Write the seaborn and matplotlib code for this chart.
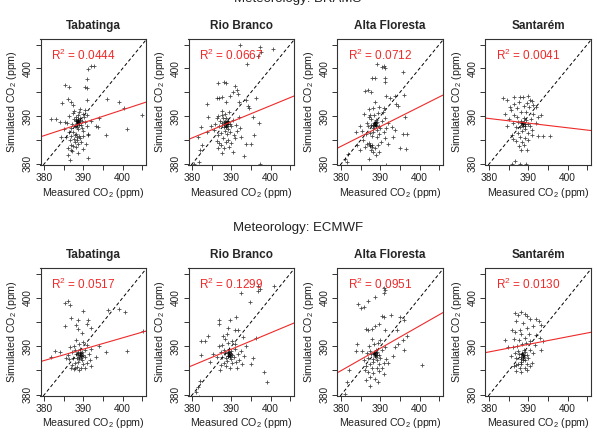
"""Measured vs simulated CO2 at four Amazon sites, two meteorology drivers."""
import matplotlib; matplotlib.use("Agg")
import numpy as np
import pandas as pd
import matplotlib.pyplot as plt
import seaborn as sns

sites = ["Tabatinga", "Rio Branco", "Alta Floresta", "Santarém"]
drivers = ["BRAMS", "ECMWF"]

r2_brams = ["0.0444", "0.0667", "0.0712", "0.0041"]
r2_ecmwf = ["0.0517", "0.1299", "0.0951", "0.0130"]
# fitted lines: slope and value at 390 ppm
slope_brams = [0.27, 0.338, 0.413, -0.097]
fit390_brams = [388.6, 388.8, 387.8, 388.5]
slope_ecmwf = [0.234, 0.338, 0.461, 0.156]
fit390_ecmwf = [389.4, 389.4, 389.6, 390.4]

# (measured, simulated) pairs, ppm
brams_tabatinga = [
    (391.2, 399.9), (392.0, 400.6), (392.6, 400.6), (391.0, 397.7), (385.3, 396.6), (386.4, 396.2),
    (390.3, 396.0), (391.0, 395.8), (386.1, 393.5), (391.0, 393.3), (384.6, 392.8), (386.7, 392.9),
    (387.2, 392.3), (396.1, 393.6), (399.1, 393.0), (400.3, 391.7), (405.1, 390.3), (381.7, 389.4),
    (383.0, 389.4), (384.0, 388.8), (385.3, 388.8), (394.0, 389.6), (393.1, 388.0), (393.7, 387.7),
    (401.2, 387.3), (395.8, 386.1), (391.2, 386.3), (386.1, 381.8), (386.9, 382.8), (386.6, 380.7),
    (391.2, 381.1), (385.0, 387.2), (384.3, 385.6), (392.0, 389.0),
    (388.2, 388.9), (388.5, 389.2), (388.8, 388.6), (388.4, 388.3), (389.0, 389.5), (388.0, 389.8),
    (388.6, 390.2), (389.3, 388.1), (387.8, 388.0), (388.3, 387.6), (389.5, 389.0), (387.5, 389.3),
    (388.9, 390.8), (389.8, 390.5), (387.2, 390.6), (390.2, 389.8), (390.5, 388.7), (387.0, 388.4),
    (386.8, 387.5), (388.7, 387.2), (389.6, 387.4), (390.0, 386.8), (387.4, 386.6), (388.1, 386.2),
    (388.9, 385.9), (386.9, 385.8), (387.6, 385.2), (388.4, 385.0), (389.2, 385.3), (386.5, 384.9),
    (387.9, 384.5), (388.7, 384.2), (386.7, 384.0), (387.3, 383.6), (388.2, 383.4), (389.4, 384.6),
    (389.9, 385.7), (386.2, 386.7), (385.9, 388.6), (390.4, 391.2), (389.1, 391.4), (387.7, 391.0),
    (386.4, 390.1), (391.0, 390.2), (390.8, 387.8), (386.0, 383.2), (387.0, 382.6), (388.5, 382.3),
    (389.8, 383.0), (385.6, 385.5), (390.6, 384.2), (391.2, 386.0),
    (388.4, 388.9), (388.6, 388.7), (388.7, 389.0), (388.3, 388.5), (388.9, 388.8), (388.5, 389.4),
    (388.1, 389.1), (388.8, 388.2), (388.2, 388.0), (389.1, 389.1), (387.9, 386.0), (388.3, 385.6),
]
brams_riobranco = [
    (392.3, 404.9), (397.3, 404.6), (397.6, 403.5), (396.7, 402.7), (400.7, 404.0), (394.0, 400.9),
    (386.5, 396.9), (388.0, 397.1), (388.6, 396.9), (390.8, 396.3), (391.4, 395.4), (386.3, 393.8),
    (386.9, 393.7), (387.6, 394.0), (389.5, 394.2), (388.6, 393.0), (390.3, 395.1), (391.6, 394.6),
    (391.9, 393.0), (393.7, 393.3), (396.3, 393.7), (394.6, 391.6), (394.1, 392.1), (383.7, 392.6),
    (386.5, 390.0), (387.5, 390.2), (384.0, 389.8), (395.4, 389.7), (397.0, 388.6), (395.8, 386.1),
    (382.1, 387.6), (383.8, 386.7), (381.4, 385.6), (382.5, 383.9), (381.9, 382.8), (381.7, 380.4),
    (380.4, 379.9), (386.9, 384.4), (386.5, 383.2), (393.7, 384.1), (393.3, 381.6), (395.0, 384.2),
    (397.3, 379.9),
    (388.5, 388.3), (388.2, 388.8), (388.9, 388.0), (388.0, 387.6), (389.2, 388.9), (387.6, 388.5),
    (388.7, 389.5), (389.5, 388.4), (387.8, 389.6), (389.0, 387.2), (388.3, 386.8), (390.0, 387.8),
    (386.9, 387.8), (387.2, 386.5), (388.8, 386.2), (389.6, 386.7), (390.3, 389.2), (387.0, 389.0),
    (388.4, 390.5), (389.4, 390.8), (387.5, 391.0), (390.6, 386.0), (386.6, 386.0), (387.9, 385.4),
    (389.1, 385.0), (388.5, 384.5), (387.3, 384.0), (389.8, 384.3), (390.8, 385.3), (386.4, 384.8),
    (388.0, 383.2), (389.3, 383.5), (390.4, 382.5), (387.6, 382.2), (391.2, 388.1), (391.5, 386.8),
    (386.2, 389.6), (385.8, 388.4), (385.5, 387.0), (392.2, 387.5), (391.8, 389.8), (392.5, 385.5),
    (384.8, 388.0),
    (388.6, 388.4), (388.4, 388.1), (388.8, 388.6), (388.3, 388.9), (389.0, 388.3), (388.7, 387.9),
    (388.1, 388.4), (389.1, 388.7), (388.5, 387.7), (388.9, 389.0),
]
brams_altafloresta = [
    (390.9, 400.5), (390.5, 400.3), (391.1, 400.2), (389.1, 400.9), (395.8, 399.3), (387.8, 397.9),
    (388.5, 397.9), (391.2, 398.1), (391.2, 397.1), (386.1, 395.3), (386.9, 395.4), (387.6, 395.1),
    (391.4, 394.2), (392.5, 393.8), (393.6, 394.2), (396.0, 394.4), (388.5, 393.0), (393.9, 392.6),
    (394.4, 392.1), (396.3, 389.8), (391.0, 391.7), (388.1, 391.6), (387.4, 390.2), (384.8, 387.9),
    (383.7, 386.7), (392.9, 387.7), (393.7, 387.0), (395.8, 386.3), (396.7, 386.3), (395.0, 383.2),
    (396.5, 383.0), (391.2, 385.3), (393.3, 385.6), (392.0, 384.1), (388.8, 381.8), (387.0, 381.0),
    (381.7, 382.0), (381.0, 381.0), (381.5, 380.3), (384.8, 382.8), (384.0, 383.9), (391.4, 379.6),
    (389.5, 382.5),
    (388.6, 388.1), (388.3, 388.6), (388.9, 387.8), (388.0, 387.5), (389.2, 388.7), (387.7, 388.2),
    (388.8, 389.2), (389.5, 388.0), (387.5, 389.3), (389.0, 387.0), (388.2, 386.7), (390.0, 387.5),
    (386.9, 387.9), (387.3, 386.5), (389.6, 386.3), (390.4, 388.9), (387.1, 389.9), (388.4, 390.3),
    (389.4, 390.6), (386.5, 388.5), (390.8, 386.7), (386.2, 386.2), (387.8, 385.8), (389.1, 385.5),
    (386.6, 384.2), (387.2, 383.7), (387.9, 384.0), (388.5, 383.3), (386.0, 383.5), (387.5, 382.8),
    (388.2, 382.5), (389.3, 383.9), (390.2, 384.6), (385.5, 385.0), (385.2, 386.8), (391.2, 389.5),
    (391.5, 387.5), (390.6, 390.8), (385.8, 390.5), (389.7, 391.8), (387.0, 391.5), (392.0, 388.5),
    (388.6, 388.3), (388.4, 387.9), (388.8, 388.5), (388.5, 388.8), (388.9, 388.1), (388.2, 388.2),
    (387.4, 383.9), (387.0, 384.3), (387.8, 383.5),
]
brams_santarem = [
    (392.5, 385.8), (393.7, 385.8), (395.4, 385.8), (388.1, 382.8), (389.5, 382.8), (386.5, 380.5),
    (385.7, 379.9), (387.8, 379.9), (389.3, 379.9), (383.6, 393.7), (384.6, 393.3), (386.3, 393.9),
    (387.8, 394.0), (388.6, 393.9), (389.9, 394.2), (390.3, 393.3), (384.0, 390.5), (393.3, 390.2),
    (391.2, 392.3), (392.0, 392.0),
    (388.6, 388.4), (388.2, 388.9), (389.0, 388.0), (387.8, 387.6), (389.4, 389.1), (387.4, 388.8),
    (388.8, 389.6), (389.8, 388.3), (387.0, 389.9), (389.2, 387.2), (388.4, 386.8), (390.3, 387.8),
    (386.7, 387.6), (387.3, 386.4), (389.8, 386.5), (390.6, 389.4), (386.3, 390.3), (388.0, 390.8),
    (389.4, 390.9), (386.0, 388.6), (391.0, 387.0), (385.8, 386.0), (387.8, 385.6), (389.2, 385.4),
    (386.8, 384.8), (388.3, 384.6), (390.0, 385.0), (385.4, 391.2), (387.1, 391.6), (388.8, 392.2),
    (390.2, 391.8), (391.2, 390.5), (385.0, 389.3), (384.5, 387.8), (391.8, 388.6), (392.4, 389.9),
    (386.2, 392.5), (387.6, 393.0), (389.5, 392.8), (391.0, 393.2), (385.2, 392.0), (388.9, 384.0),
    (387.5, 383.6), (386.0, 385.2), (390.8, 386.0),
    (388.7, 388.5), (388.4, 388.2), (388.9, 388.8), (388.1, 388.6), (389.1, 388.3), (388.5, 387.9),
]
ecmwf_tabatinga = [
    (385.3, 398.9), (386.0, 399.4), (386.5, 398.5), (389.9, 397.4), (396.3, 397.6), (399.2, 397.8),
    (400.5, 397.1), (386.8, 395.9), (391.2, 395.4), (390.8, 394.7), (388.6, 395.5), (385.3, 394.1),
    (388.0, 394.3), (388.5, 393.6), (389.7, 392.7), (392.0, 393.8), (405.2, 393.2), (394.0, 390.1),
    (382.7, 389.1), (384.0, 388.9), (381.7, 387.8), (395.8, 388.9), (401.2, 389.0), (393.3, 387.8),
    (390.3, 385.6), (386.9, 385.4), (387.8, 385.4),
    (389.0, 388.3), (388.7, 388.8), (389.3, 387.9), (388.4, 387.5), (389.6, 388.9), (388.1, 388.4),
    (389.1, 389.4), (389.9, 388.2), (387.8, 389.2), (389.5, 387.2), (388.6, 386.8), (390.3, 387.7),
    (387.4, 387.6), (387.8, 386.6), (389.9, 386.4), (390.5, 389.3), (387.5, 390.1), (388.8, 390.4),
    (389.8, 390.8), (387.0, 388.8), (390.9, 386.6), (387.1, 386.1), (388.3, 385.8), (389.4, 385.5),
    (387.6, 385.2), (388.8, 385.0), (386.4, 387.3), (386.0, 388.1), (391.3, 388.3), (391.6, 387.1),
    (390.8, 390.2), (386.6, 389.9), (388.2, 391.2), (392.0, 389.5), (385.5, 387.5), (391.8, 385.9),
    (389.1, 388.1), (388.9, 387.8), (389.3, 388.5), (388.6, 388.2), (389.5, 388.0), (389.0, 388.7),
    (388.8, 387.4), (389.4, 387.6),
]
ecmwf_riobranco = [
    (396.7, 402.4), (397.3, 401.8), (396.9, 401.5), (400.8, 402.4), (392.5, 401.0), (394.7, 399.2),
    (386.8, 395.5), (386.9, 394.7), (389.5, 395.5), (391.2, 396.1), (389.1, 393.8), (391.0, 393.3),
    (391.6, 393.4), (392.9, 392.0), (384.0, 392.2), (382.1, 391.0), (383.1, 391.0), (382.3, 388.2),
    (385.3, 388.4), (393.7, 390.1), (396.3, 391.7), (395.4, 387.5), (384.4, 386.8), (395.0, 386.4),
    (398.2, 384.7), (399.2, 382.6), (381.9, 382.9), (381.4, 381.5), (381.0, 380.5), (381.6, 379.5),
    (389.3, 388.4), (389.0, 388.9), (389.6, 388.0), (388.7, 387.6), (389.9, 389.0), (388.4, 388.5),
    (389.4, 389.5), (390.2, 388.2), (388.0, 389.3), (389.8, 387.3), (388.9, 386.9), (390.6, 387.8),
    (387.6, 387.7), (388.1, 386.6), (390.2, 386.5), (390.8, 389.4), (387.7, 390.3), (389.0, 390.6),
    (390.1, 391.0), (387.2, 388.9), (391.2, 386.8), (387.4, 386.2), (388.6, 385.9), (389.7, 385.6),
    (391.6, 388.4), (392.0, 387.2), (391.0, 390.5), (386.8, 390.0), (388.3, 391.6), (392.4, 389.1),
    (386.2, 387.8), (392.8, 386.4), (391.4, 385.4), (387.9, 392.2), (388.9, 392.6), (387.0, 385.0),
    (393.2, 388.0),
    (389.4, 388.2), (389.2, 388.6), (389.6, 388.5), (389.1, 388.0), (389.8, 388.3), (389.3, 388.8),
    (389.0, 387.9), (389.7, 387.8),
]
ecmwf_altafloresta = [
    (390.8, 402.0), (391.2, 401.7), (391.0, 401.1), (388.6, 400.1), (386.9, 399.4), (384.2, 398.7),
    (385.1, 398.0), (385.9, 398.2), (390.3, 396.2), (390.8, 396.1), (392.7, 396.4), (395.0, 396.0),
    (396.1, 395.5), (388.6, 394.1), (389.5, 394.7), (386.3, 393.6), (386.9, 393.4), (387.8, 393.6),
    (391.2, 393.4), (394.2, 393.3), (395.8, 391.2), (394.4, 390.5), (393.7, 389.9), (384.0, 390.5),
    (383.7, 389.0), (396.8, 392.2), (396.1, 389.2), (393.1, 388.0), (400.7, 386.1), (381.9, 385.0),
    (381.4, 382.6), (387.4, 381.7), (390.8, 384.3), (381.0, 380.1),
    (388.6, 388.2), (388.3, 388.7), (388.9, 387.8), (388.0, 387.4), (389.2, 388.8), (387.7, 388.3),
    (388.8, 389.3), (389.5, 388.1), (387.4, 389.1), (389.0, 387.1), (388.2, 386.7), (390.0, 387.6),
    (386.9, 387.5), (387.3, 386.4), (389.6, 386.3), (390.3, 389.2), (387.1, 390.0), (388.4, 390.4),
    (389.4, 390.7), (386.5, 388.7), (390.8, 386.6), (386.4, 386.0), (387.8, 385.6), (389.0, 385.4),
    (386.8, 384.7), (388.2, 384.5), (389.7, 384.9), (387.4, 383.7), (388.6, 383.3), (386.0, 385.0),
    (390.4, 385.6), (391.4, 387.4), (391.1, 389.9), (385.7, 387.2), (385.3, 389.0), (387.9, 391.6),
    (390.0, 391.2), (386.3, 383.0), (389.3, 382.5), (392.0, 386.5),
    (388.7, 388.4), (388.5, 388.0), (388.9, 388.6), (388.4, 388.5), (389.1, 388.2), (388.6, 388.9),
]
ecmwf_santarem = [
    (386.5, 396.8), (387.4, 396.4), (388.2, 397.0), (389.1, 396.6), (389.5, 396.2), (386.9, 395.2),
    (388.5, 394.8), (390.3, 395.6), (392.0, 395.6), (392.7, 395.3), (391.2, 394.1), (393.3, 394.3),
    (385.8, 393.4), (386.5, 393.0), (387.8, 393.4), (389.5, 393.8), (392.0, 392.4), (392.9, 391.7),
    (384.0, 391.3), (384.8, 389.9), (393.7, 391.0), (393.3, 389.2), (390.3, 385.9), (386.9, 386.1),
    (388.2, 386.3),
    (388.6, 388.2), (388.3, 388.7), (388.9, 387.8), (388.0, 387.4), (389.2, 388.8), (387.7, 388.3),
    (388.8, 389.3), (389.5, 388.1), (387.4, 389.1), (389.0, 387.1), (388.2, 386.7), (390.0, 387.6),
    (386.9, 387.5), (387.3, 386.4), (389.6, 386.3), (390.3, 389.2), (387.1, 390.0), (388.4, 390.4),
    (389.4, 390.7), (386.5, 388.7), (390.8, 386.6), (386.4, 386.0), (387.8, 385.6), (389.0, 385.4),
    (386.8, 384.9), (388.2, 384.7), (389.7, 385.0), (386.0, 389.8), (387.5, 391.3), (389.0, 391.8),
    (390.5, 391.0), (391.2, 388.5), (385.6, 388.0), (391.6, 390.2), (386.2, 391.5), (390.1, 392.6),
    (388.0, 392.5),
    (388.5, 387.9), (388.7, 387.5), (388.4, 388.4), (388.9, 388.1), (388.1, 387.8), (388.6, 387.2),
]

panels = {
    "BRAMS": [brams_tabatinga, brams_riobranco, brams_altafloresta, brams_santarem],
    "ECMWF": [ecmwf_tabatinga, ecmwf_riobranco, ecmwf_altafloresta, ecmwf_santarem],
}
fits = {"BRAMS": (slope_brams, fit390_brams, r2_brams),
        "ECMWF": (slope_ecmwf, fit390_ecmwf, r2_ecmwf)}

rows = []
for drv in drivers:
    for site, pts in zip(sites, panels[drv]):
        for mx, sy in pts:
            rows.append({"driver": drv, "site": site, "measured": mx, "simulated": sy})
df = pd.DataFrame(rows)

sns.set_style("ticks")
plt.rcParams["font.family"] = ["Liberation Sans", "DejaVu Sans"]
plt.rcParams["mathtext.default"] = "regular"

W, H = 597, 432
fig = plt.figure(figsize=(W / 100, H / 100), dpi=100)
col_left = [40.5, 188.5, 337.5, 485.5]
row_box = [(39, 165), (268, 396)]
box_w = 105.5
red = "#ee2a2a"
ink = "#222222"

for r, drv in enumerate(drivers):
    top, bot = row_box[r]
    slopes, mids, r2s = fits[drv]
    for c, site in enumerate(sites):
        ax = fig.add_axes([col_left[c] / W, 1 - bot / H, box_w / W, (bot - top) / H])
        d = df[(df.driver == drv) & (df.site == site)]
        sns.scatterplot(data=d, x="measured", y="simulated", marker="+", color="black",
                        s=9, linewidth=0.6, alpha=0.7, ax=ax)
        ax.axline((0, 0), slope=1, color="black", lw=0.7, ls=(0, (3.5, 2.5)))
        ax.axline((0, mids[c] - slopes[c] * 390), slope=slopes[c], color=red, lw=0.8)
        ax.set_xlim(379, 406); ax.set_ylim(379.7, 406.2)
        ticks = [380, 385, 390, 395, 400, 405]
        labs = ["380", "", "390", "", "400", ""]
        ax.set_xticks(ticks); ax.set_xticklabels(labs, fontsize=7.3, color=ink)
        ax.set_yticks(ticks); ax.set_yticklabels(labs, fontsize=7.3, color=ink,
                                                 rotation=90, va="center")
        ax.tick_params(length=3.5, width=0.7, pad=2, colors="#333333", labelcolor=ink)
        for sp in ax.spines.values():
            sp.set_linewidth(0.8); sp.set_color("#333333")
        ax.set_xlabel("Measured CO$_2$ (ppm)", fontsize=7.7, color=ink)
        ax.set_ylabel("Simulated CO$_2$ (ppm)", fontsize=7.7, color=ink)
        ax.xaxis.set_label_coords(0.5, -20.5 / (bot - top))
        ax.yaxis.set_label_coords(-21.5 / box_w, 0.5)
        ax.set_title(site, fontsize=8.5, fontweight="bold", pad=7)
        ax.text(0.095, 0.87, f"R$^2$ = {r2s[c]}", transform=ax.transAxes, color=red,
                fontsize=8.5, va="center", ha="left")
    # the upper heading sits partly above the top edge, as in the source figure
    fig.text(298 / W, 1 - (top - 37) / H, f"Meteorology: {drv}", ha="center",
             va="baseline", fontsize=9.5, color=ink)

fig.savefig("out.png", dpi=100)
